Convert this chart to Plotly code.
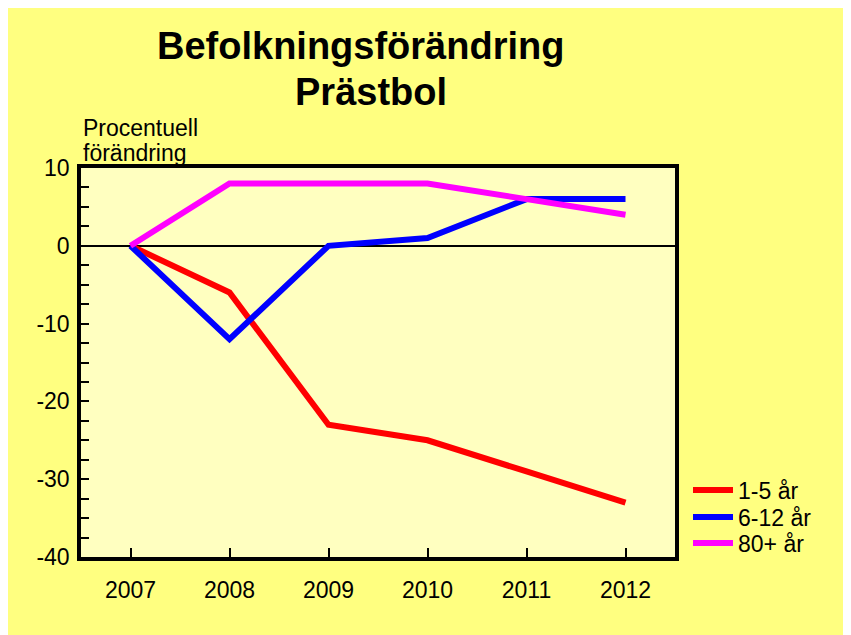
import plotly.graph_objects as go

years = ["2007", "2008", "2009", "2010", "2011", "2012"]
s_1_5 = [0, -6, -23, -25, -29, -33]
s_6_12 = [0, -12, 0, 1, 6, 6]
s_80 = [0, 8, 8, 8, 6, 4]
names = ["1-5 år", "6-12 år", "80+ år"]
colors = ["#FF0000", "#0000FF", "#FF00FF"]
y_ticks = [10, 0, -10, -20, -30, -40]
y_tick_labels = ["10", "0", "-10", "-20", "-30", "-40"]

font = "Liberation Sans, Arial, sans-serif"
L, R, T, B = 73, 667, 160, 549
W, H = 851, 635
pw, ph = R - L, B - T

def px(x):
    return (x - L) / pw

def py(y):
    return (B - y) / ph

legend_ids = ["legend", "legend2", "legend3"]
legend_centers = [482, 509, 535]

fig = go.Figure()
for name, vals, c, lid in zip(names, [s_1_5, s_6_12, s_80], colors, legend_ids):
    fig.add_trace(go.Scatter(x=years, y=vals, name=name, mode="lines", legend=lid,
                             line=dict(color=c, width=6)))

legend_layout = {}
for lid, cy in zip(legend_ids, legend_centers):
    legend_layout[lid] = dict(x=px(680), y=py(cy), xanchor="left", yanchor="middle",
                              bgcolor="rgba(0,0,0,0)", font=dict(size=23),
                              itemwidth=40)

fig.update_layout(
    width=W, height=H,
    paper_bgcolor="#FFFF80", plot_bgcolor="#FFFFC0",
    margin=dict(l=L, r=W - R, t=T, b=H - B, pad=0),
    font=dict(family=font, size=23, color="black"),
    showlegend=True,
    **legend_layout,
    xaxis=dict(type="category", range=[-0.5, 5.5], showgrid=False,
               showline=True, linecolor="black", linewidth=3.5, mirror=True,
               ticks="inside", ticklen=9, tickwidth=2, tickcolor="black",
               ticklabelstandoff=10, zeroline=False, tickfont=dict(size=23)),
    yaxis=dict(range=[-40, 10], tickmode="array", tickvals=y_ticks, ticktext=y_tick_labels,
               showgrid=False,
               showline=True, linecolor="black", linewidth=3.5, mirror=True,
               ticks="inside", ticklen=8, tickwidth=2, tickcolor="black",
               ticklabelstandoff=3, tickfont=dict(size=23),
               zeroline=True, zerolinecolor="black", zerolinewidth=2,
               minor=dict(dtick=2.5, ticks="inside", ticklen=8, tickwidth=2,
                          tickcolor="black", showgrid=False)),
    annotations=[
        dict(text="<b>Befolkningsförändring</b>", xref="paper", yref="paper",
             x=px(352), y=py(38), xanchor="center", yanchor="middle",
             showarrow=False, font=dict(size=38, family=font)),
        dict(text="<b>Prästbol</b>", xref="paper", yref="paper",
             x=px(363), y=py(84), xanchor="center", yanchor="middle",
             showarrow=False, font=dict(size=38, family=font)),
        dict(text="Procentuell", xref="paper", yref="paper",
             x=px(73), y=py(120), xanchor="left", yanchor="middle",
             showarrow=False, font=dict(size=23, family=font)),
        dict(text="förändring", xref="paper", yref="paper",
             x=px(73), y=py(145), xanchor="left", yanchor="middle",
             showarrow=False, font=dict(size=23, family=font)),
    ],
)

fig.write_html("out.html")
